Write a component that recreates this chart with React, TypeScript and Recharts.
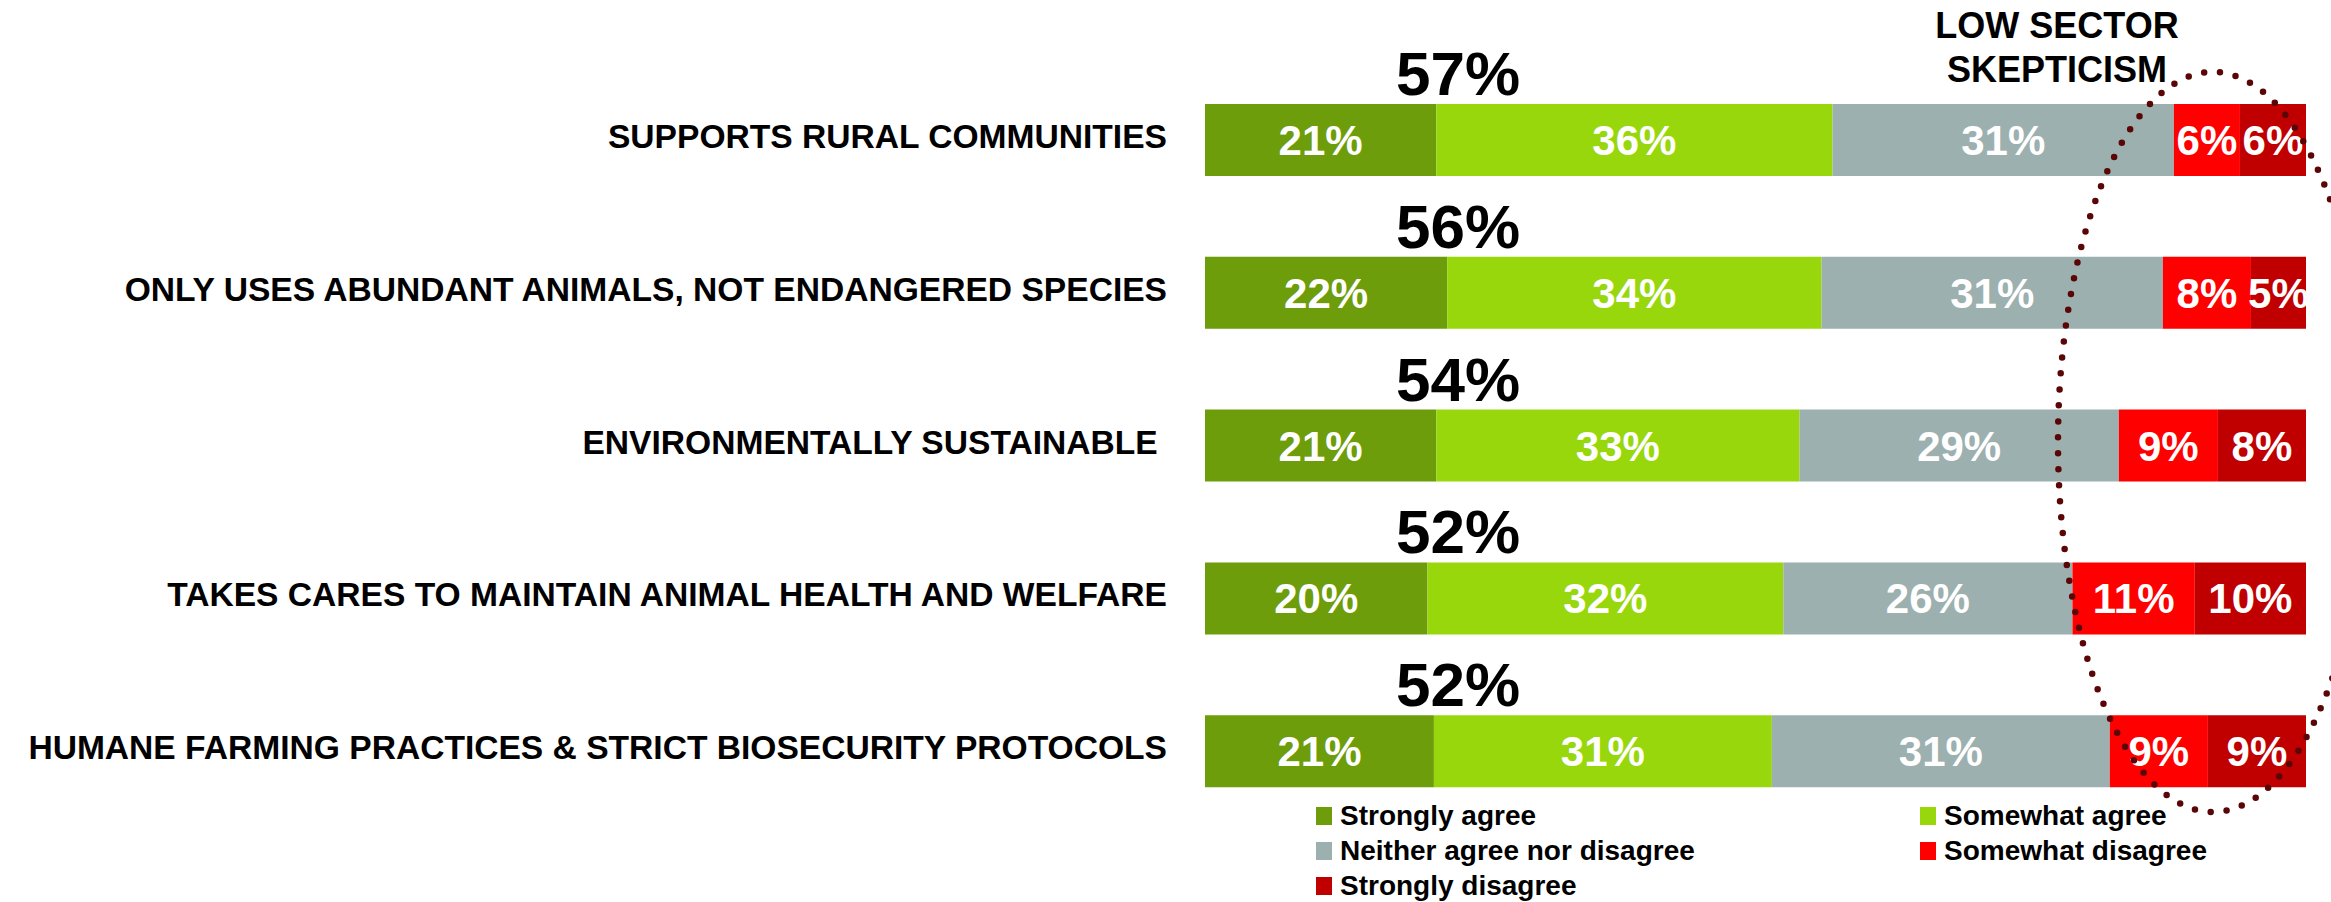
import React from "react";
import { Bar, BarChart, LabelList, Legend, XAxis, YAxis } from "recharts";

const categories = [
  "SUPPORTS RURAL COMMUNITIES",
  "ONLY USES ABUNDANT ANIMALS, NOT ENDANGERED SPECIES",
  "ENVIRONMENTALLY SUSTAINABLE\u00a0",
  "TAKES CARES TO MAINTAIN ANIMAL HEALTH AND WELFARE",
  "HUMANE FARMING PRACTICES & STRICT BIOSECURITY PROTOCOLS",
];
const stronglyAgree = [21, 22, 21, 20, 21];
const somewhatAgree = [36, 34, 33, 32, 31];
const neither = [31, 31, 29, 26, 31];
const somewhatDisagree = [6, 8, 9, 11, 9];
const stronglyDisagree = [6, 5, 8, 10, 9];
const totals = [57, 56, 54, 52, 52];

const series = [
  { key: "stronglyAgree", name: "Strongly agree", color: "#6e9d0b" },
  { key: "somewhatAgree", name: "Somewhat agree", color: "#98d70c" },
  { key: "neither", name: "Neither agree nor disagree", color: "#9cb0af" },
  { key: "somewhatDisagree", name: "Somewhat disagree", color: "#ff0000" },
  { key: "stronglyDisagree", name: "Strongly disagree", color: "#c00000" },
];

const data = categories.map((name, i) => ({
  name,
  stronglyAgree: stronglyAgree[i],
  somewhatAgree: somewhatAgree[i],
  neither: neither[i],
  somewhatDisagree: somewhatDisagree[i],
  stronglyDisagree: stronglyDisagree[i],
  total: totals[i],
}));

const FONT = "'Liberation Sans', Arial, sans-serif";

function CategoryTick(props: any) {
  const { x, y, payload } = props;
  return (
    <text
      x={x}
      y={y}
      dy={-4}
      textAnchor="end"
      dominantBaseline="central"
      fontFamily={FONT}
      fontWeight={700}
      fontSize={33.6}
      fill="#000"
    >
      {payload.value}
    </text>
  );
}

function TotalLabel(props: any) {
  const vb = props.viewBox || props;
  return (
    <text
      x={Number(vb.x) + 253}
      y={Number(vb.y) - 9}
      textAnchor="middle"
      fontFamily={FONT}
      fontWeight={700}
      fontSize={62}
      fill="#000"
    >
      {props.value}%
    </text>
  );
}

function LegendBox() {
  return (
    <div
      style={{
        display: "grid",
        gridTemplateColumns: "604px auto",
        fontFamily: FONT,
        fontWeight: 700,
        fontSize: 28,
        lineHeight: "35px",
        color: "#000",
      }}
    >
      {series.map((s) => (
        <div key={s.key} style={{ display: "flex", alignItems: "center" }}>
          <span
            style={{
              display: "inline-block",
              width: 16,
              height: 18,
              background: s.color,
              marginRight: 8,
            }}
          />
          <span>{s.name}</span>
        </div>
      ))}
    </div>
  );
}

export default function App() {
  return (
    <div style={{ position: "relative", width: 2331, height: 902 }}>
      <style>{`body{margin:0;}`}</style>
      <BarChart
        width={2331}
        height={902}
        data={data}
        layout="vertical"
        stackOffset="expand"
        margin={{ top: 64, right: 25, bottom: 74, left: 0 }}
      >
        <XAxis type="number" hide domain={[0, 1]} />
        <YAxis
          type="category"
          dataKey="name"
          width={1205}
          axisLine={false}
          tickLine={false}
          tickSize={0}
          tickMargin={38}
          interval={0}
          tick={<CategoryTick />}
        />
        {series.map((s, i) => (
          <Bar
            key={s.key}
            dataKey={s.key}
            name={s.name}
            stackId="a"
            fill={s.color}
            barSize={72}
            isAnimationActive={false}
          >
            <LabelList
              dataKey={s.key}
              position="center"
              fill="#fff"
              fontFamily={FONT}
              fontWeight={700}
              fontSize={42}
              formatter={(v: any) => `${v}%`}
            />
            {i === 0 && <LabelList dataKey="total" content={<TotalLabel />} />}
          </Bar>
        ))}
        <Legend
          layout="horizontal"
          verticalAlign="middle"
          align="center"
          wrapperStyle={{ top: 798, left: 1316, width: 900, height: 110 }}
          content={() => <LegendBox />}
        />
      </BarChart>
      <svg
        width={2331}
        height={902}
        style={{ position: "absolute", left: 0, top: 0, pointerEvents: "none" }}
      >
        <text
          x={2057}
          y={38}
          textAnchor="middle"
          fontFamily={FONT}
          fontWeight={700}
          fontSize={36}
          fill="#000"
        >
          LOW SECTOR
        </text>
        <text
          x={2057}
          y={82}
          textAnchor="middle"
          fontFamily={FONT}
          fontWeight={700}
          fontSize={36}
          fill="#000"
        >
          SKEPTICISM
        </text>
        <ellipse
          cx={2213}
          cy={442}
          rx={155}
          ry={370}
          fill="none"
          stroke="#5a0606"
          strokeWidth={6.5}
          strokeLinecap="round"
          strokeDasharray="0 16"
        />
      </svg>
    </div>
  );
}
